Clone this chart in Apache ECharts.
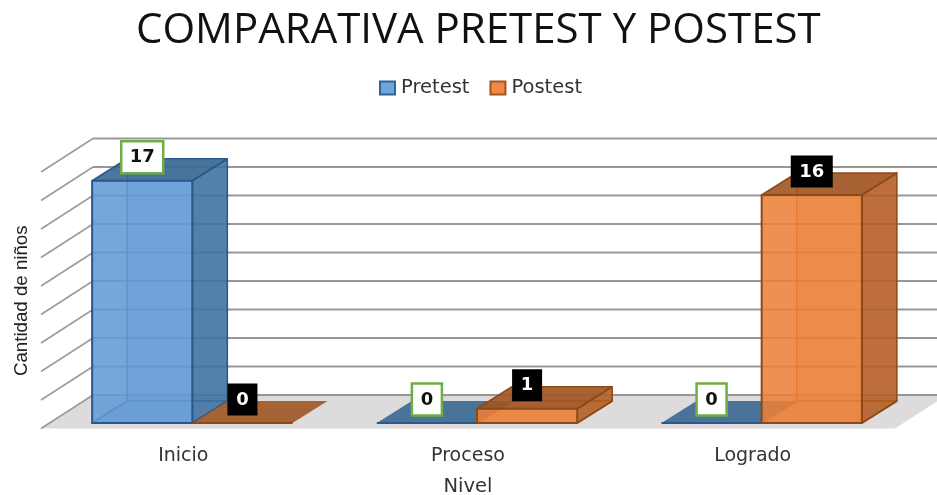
<!DOCTYPE html>
<html><head><meta charset="utf-8">
<style>html,body{margin:0;padding:0;background:#fff}#c{width:937px;height:495px}</style>
<script src="https://cdn.jsdelivr.net/npm/echarts@6/dist/echarts.min.js"></script>
</head><body><div id="c"></div>
<script>
var titleText = 'COMPARATIVA PRETEST Y POSTEST';
var categories = ['Inicio', 'Proceso', 'Logrado'];
var seriesNames = ['Pretest', 'Postest'];
var pretestValues = [17, 0, 0];
var postestValues = [0, 1, 16];
var yTicks = [0, 2, 4, 6, 8, 10, 12, 14, 16, 18];
var yAxisName = 'Cantidad de niños';
var xAxisName = 'Nivel';

// projection of the 3D box, in pixels
var BAR_SHARE = 0.352;
var BAR_DX = 35, BAR_DY = -22;
var BACK_DX = 43, BACK_DY = -28;
var FRONT_DX = -9, FRONT_DY = 5.5;

var blue = {front:'rgba(96,154,212,0.87)', side:'rgba(62,112,160,0.85)', top:'rgba(58,103,145,0.90)', inner:'rgba(91,155,213,0.30)', edge:'#28598a', innerEdge:'#2f6fa8'};
var orange = {front:'rgba(234,128,56,0.87)', side:'rgba(178,92,35,0.85)', top:'rgba(160,85,35,0.90)', inner:'rgba(237,125,49,0.30)', edge:'#8c4a16', innerEdge:'#b85a15'};

function poly(points, fill, stroke, lw, z2){
  return {type:'polygon', z2:z2||0, shape:{points:points}, style:{fill:fill, stroke:stroke||null, lineWidth:lw||0, lineJoin:'round'}};
}
function line(x1,y1,x2,y2,stroke,lw,z2){
  return {type:'line', z2:z2||0, shape:{x1:x1,y1:y1,x2:x2,y2:y2}, style:{stroke:stroke,lineWidth:lw,fill:null}};
}
function barRender(pal, offsetIndex){
  return function(params, api){
    var base = api.coord([api.value(0), 0]);
    var topP = api.coord([api.value(0), api.value(1)]);
    var w = api.size([1,0])[0] * BAR_SHARE;
    var x0 = base[0] + (offsetIndex - 1) * w, x1 = x0 + w;
    var yB = base[1], yT = topP[1];
    var d = [BAR_DX, BAR_DY];
    var ch = [];
    ch.push(poly([[x0,yB],[x1,yB],[x1+d[0],yB+d[1]],[x0+d[0],yB+d[1]]], api.value(1) === 0 ? pal.top : pal.inner, api.value(1) === 0 ? null : pal.edge, 1.5, 1));
    if (api.value(1) === 0) ch.push(line(x0,yB,x1,yB,pal.edge,2,2));
    if (api.value(1) > 0) {
      ch.push(poly([[x0+d[0],yB+d[1]],[x1+d[0],yB+d[1]],[x1+d[0],yT+d[1]],[x0+d[0],yT+d[1]]], pal.inner, null, 0, 2));
      ch.push(line(x0+d[0],yB+d[1],x0+d[0],yT+d[1],pal.innerEdge,1.5,3));
      ch.push(line(x0,yB,x0+d[0],yB+d[1],pal.innerEdge,1.5,3));
      ch.push(line(x0+d[0],yB+d[1],x1+d[0],yB+d[1],pal.innerEdge,1.5,3));
      ch.push(poly([[x1,yB],[x1+d[0],yB+d[1]],[x1+d[0],yT+d[1]],[x1,yT]], pal.side, pal.edge, 1.5, 4));
      ch.push(poly([[x0,yT],[x1,yT],[x1+d[0],yT+d[1]],[x0+d[0],yT+d[1]]], pal.top, pal.edge, 1.5, 5));
      ch.push(poly([[x0,yB],[x1,yB],[x1,yT],[x0,yT]], pal.front, pal.edge, 2, 6));
    }
    return {type:'group', children:ch};
  };
}
function labelRender(offsetIndex, boxed){
  return function(params, api){
    var v = api.value(1);
    var base = api.coord([api.value(0), 0]);
    var topP = api.coord([api.value(0), v]);
    var w = api.size([1,0])[0] * BAR_SHARE;
    var cx = base[0] + (offsetIndex - 1) * w + w/2;
    var cy = topP[1] - 23.5;
    var bw = String(v).length > 1 ? 42 : 30, bh = 32;
    return {type:'group', children:[
      {type:'rect', shape:{x:cx-bw/2, y:cy-bh/2, width:bw, height:bh},
       style: boxed ? {fill:'#fff', stroke:'#70ad47', lineWidth:2.5} : {fill:'#000'}},
      {type:'text', z2:2, x:cx, y:cy+0.5, style:{text:String(v), fill: boxed ? '#111' : '#fff', align:'center', verticalAlign:'middle',
        font:'bold 18px "DejaVu Sans"'}}
    ]};
  };
}
var catIdx = categories.map(function(c,i){return i;});
var chart = echarts.init(document.getElementById('c'), null, {renderer:'canvas'});
chart.setOption({
  animation:false,
  backgroundColor:'#fff',
  title:{text:titleText, left:131, top:5, itemGap:0, textStyle:{fontFamily:'Open Sans', fontWeight:'normal', fontSize:42, color:'#111'}},
  legend:{data:seriesNames, top:73, left:374, icon:'rect', itemWidth:15, itemHeight:13, itemGap:20,
    textStyle:{fontFamily:'DejaVu Sans', fontSize:19.5, color:'#333', padding:[0,0,0,1]}},
  grid:{left:50, right:33, top:166.5, bottom:72, outerBoundsMode:'none'},
  xAxis:{type:'category', data:categories, axisLine:{show:false}, axisTick:{show:false},
    axisLabel:{margin:24, fontFamily:'DejaVu Sans', fontSize:19, color:'#333', padding:[0,18,0,0]},
    name:xAxisName, nameLocation:'middle', nameGap:54, nameTextStyle:{fontFamily:'DejaVu Sans', fontSize:19.5, color:'#333', padding:[0,18,0,0]}},
  yAxis:{type:'value', min:0, max:18, interval:2, axisLine:{show:false}, axisTick:{show:false}, axisLabel:{show:false}, splitLine:{show:false},
    name:yAxisName, nameLocation:'middle', nameGap:19, nameTextStyle:{fontFamily:'Liberation Sans', fontSize:18.7, color:'#222', padding:[0,0,0,-12]}},
  series:[
    {type:'custom', name:'walls', silent:true, z:1, clip:false, coordinateSystem:'cartesian2d', encode:{y:0}, data:yTicks.map(function(t){return [t];}),
     renderItem:function(params, api){
       var t = api.value(0);
       var p0 = api.coord([0, t]);
       var left = p0[0] - api.size([1,0])[0]/2;
       var right = left + api.size([1,0])[0]*categories.length;
       var ch = [];
       if (t === 0) ch.push(poly([[left+FRONT_DX,p0[1]+FRONT_DY],[right+FRONT_DX,p0[1]+FRONT_DY],[right+BACK_DX,p0[1]+BACK_DY],[left+BACK_DX,p0[1]+BACK_DY]], '#dddbdc'));
       ch.push(line(left+FRONT_DX,p0[1]+FRONT_DY,left+BACK_DX,p0[1]+BACK_DY,'#9a9a9a',1.5,1));
       ch.push(line(left+BACK_DX,p0[1]+BACK_DY,right+BACK_DX,p0[1]+BACK_DY,'#979797',2,1));
       return {type:'group', children:ch};
     }},
    {type:'custom', name:seriesNames[0], z:3, coordinateSystem:'cartesian2d', itemStyle:{color:'#6fa5da', borderColor:'#2f6496', borderWidth:2},
     clip:false, encode:{x:0,y:1}, data:catIdx.map(function(i){return [i, pretestValues[i]];}), renderItem:barRender(blue,0)},
    {type:'custom', name:seriesNames[1], z:4, coordinateSystem:'cartesian2d', itemStyle:{color:'#ee8a45', borderColor:'#a5561d', borderWidth:2},
     clip:false, encode:{x:0,y:1}, data:catIdx.map(function(i){return [i, postestValues[i]];}), renderItem:barRender(orange,1)},
    {type:'custom', name:'labels1', z:6, clip:false, silent:true, coordinateSystem:'cartesian2d', encode:{x:0,y:1}, data:catIdx.map(function(i){return [i, pretestValues[i]];}), renderItem:labelRender(0,true)},
    {type:'custom', name:'labels2', z:6, clip:false, silent:true, coordinateSystem:'cartesian2d', encode:{x:0,y:1}, data:catIdx.map(function(i){return [i, postestValues[i]];}), renderItem:labelRender(1,false)}
  ]
});
</script></body></html>
